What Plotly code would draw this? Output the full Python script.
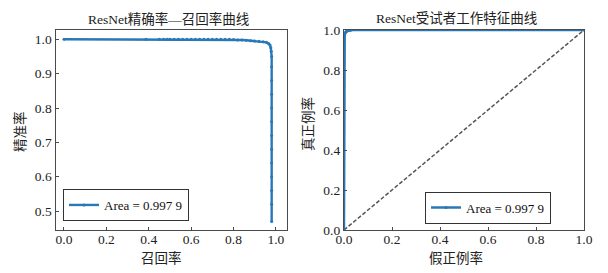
import plotly.graph_objects as go

# ---------------- data ----------------
pr_recall = [0.0, 0.387, 0.45, 0.47, 0.486, 0.50, 0.52, 0.54, 0.56, 0.58, 0.60, 0.62, 0.64,
             0.66, 0.68, 0.70, 0.72, 0.74, 0.76, 0.78, 0.80, 0.82, 0.84, 0.86, 0.88, 0.90,
             0.92, 0.94, 0.955, 0.965, 0.972, 0.976, 0.978, 0.98, 0.98, 0.98, 0.98, 0.98,
             0.98, 0.98, 0.98, 0.98, 0.98, 0.98, 0.98, 0.98]
pr_precision = [1.0, 1.0, 1.0, 1.0, 1.0, 1.0, 1.0, 1.0, 1.0, 1.0, 1.0, 1.0, 1.0,
                1.0, 1.0, 1.0, 1.0, 1.0, 1.0, 1.0, 0.999, 0.998, 0.998, 0.997, 0.996, 0.995,
                0.994, 0.993, 0.991, 0.988, 0.983, 0.975, 0.965, 0.95, 0.92, 0.88, 0.84, 0.80,
                0.76, 0.72, 0.68, 0.64, 0.60, 0.56, 0.52, 0.47]

roc_fpr = [0.0, 0.0, 0.001, 0.002, 0.003, 0.005, 0.007, 0.01, 0.013, 0.017,
           0.02, 0.025, 0.03, 1.0]
roc_tpr = [0.0, 0.9, 0.95, 0.97, 0.98, 0.985, 0.99, 0.993, 0.995, 0.997,
           0.998, 0.999, 1.0, 1.0]

chance_x = [0.0, 1.0]
chance_y = [0.0, 1.0]

area_label = "Area = 0.997 9"
pr_title = "ResNet精确率—召回率曲线"
roc_title = "ResNet受试者工作特征曲线"
pr_xlabel = "召回率"
pr_ylabel = "精准率"
roc_xlabel = "假正例率"
roc_ylabel = "真正例率"

x_ticks = [0.0, 0.2, 0.4, 0.6, 0.8, 1.0]
pr_y_ticks = [0.5, 0.6, 0.7, 0.8, 0.9, 1.0]
roc_y_ticks = [0.0, 0.2, 0.4, 0.6, 0.8, 1.0]

# ---------------- style ----------------
W, H = 608, 273
LATIN = "Liberation Serif"
FONT = "Liberation Serif, Noto Sans CJK SC"
BLUE = "#2878b8"
SPINE = "#4a4a4a"


def px_x(p):
    return p / W


def px_y(p):
    return 1 - p / H


fig = go.Figure()

fig.add_trace(go.Scatter(
    x=pr_recall, y=pr_precision, mode="lines+markers",
    line=dict(color=BLUE, width=2.4), marker=dict(color=BLUE, size=3),
    name=area_label, xaxis="x", yaxis="y", legend="legend", showlegend=True,
))
fig.add_trace(go.Scatter(
    x=chance_x, y=chance_y, mode="lines",
    line=dict(color="#555555", width=1.5, dash="4px,2px"),
    xaxis="x2", yaxis="y2", showlegend=False,
))
fig.add_trace(go.Scatter(
    x=roc_fpr, y=roc_tpr, mode="lines+markers",
    line=dict(color=BLUE, width=2.4), marker=dict(color=BLUE, size=3),
    name=area_label, xaxis="x2", yaxis="y2", legend="legend2", showlegend=True,
))

axis_common = dict(
    showline=True, linecolor=SPINE, linewidth=1.3, mirror=True,
    ticks="inside", ticklen=3, tickwidth=1, tickcolor=SPINE,
    showgrid=False, zeroline=False, automargin=False,
    tickfont=dict(family=LATIN, size=13.5, color="#222222"),
    tickformat=".1f",
)

y_dom = [px_y(230), px_y(30)]

fig.update_layout(
    template="none",
    width=W, height=H,
    margin=dict(l=0, r=0, t=0, b=0, pad=0, autoexpand=False),
    paper_bgcolor="white", plot_bgcolor="white",
    xaxis=dict(domain=[px_x(55.5), px_x(286.5)], range=[-0.04, 1.05],
               tickvals=x_ticks, anchor="y", ticklabelstandoff=-3, **axis_common),
    yaxis=dict(domain=y_dom, range=[0.445, 1.027],
               tickvals=pr_y_ticks, anchor="x", **axis_common),
    xaxis2=dict(domain=[px_x(344), px_x(584)], range=[0, 1],
                tickvals=x_ticks, anchor="y2", ticklabelstandoff=-3, **axis_common),
    yaxis2=dict(domain=y_dom, range=[0, 1],
                tickvals=roc_y_ticks, anchor="x2", **axis_common),
    legend=dict(x=px_x(63), y=px_y(221), xanchor="left", yanchor="bottom",
                bgcolor="white", bordercolor="#333333", borderwidth=1,
                font=dict(family=LATIN, size=13, color="#111111"),
                itemwidth=30, tracegroupgap=0),
    legend2=dict(x=px_x(488), y=px_y(223.5), xanchor="center", yanchor="bottom",
                 bgcolor="white", bordercolor="#333333", borderwidth=1,
                 font=dict(family=LATIN, size=13, color="#111111"),
                 itemwidth=30, tracegroupgap=0),
    showlegend=True,
)

ann_font = dict(family=FONT, size=13.5, color="#222222")
annotations = [
    dict(text=pr_title, x=px_x(168), y=px_y(19)),
    dict(text=roc_title, x=px_x(456), y=px_y(19)),
    dict(text=pr_xlabel, x=px_x(161), y=px_y(258)),
    dict(text=roc_xlabel, x=px_x(456), y=px_y(258)),
    dict(text=pr_ylabel, x=px_x(20), y=px_y(132), textangle=-90),
    dict(text=roc_ylabel, x=px_x(308), y=px_y(124), textangle=-90),
]
for a in annotations:
    a.update(xref="paper", yref="paper", showarrow=False, font=ann_font,
             xanchor="center", yanchor="middle")
fig.update_layout(annotations=annotations)

fig.write_html(
    "out.html",
    config={"displayModeBar": False},
    post_script="document.body.style.margin='0';document.body.style.overflow='hidden';",
)
